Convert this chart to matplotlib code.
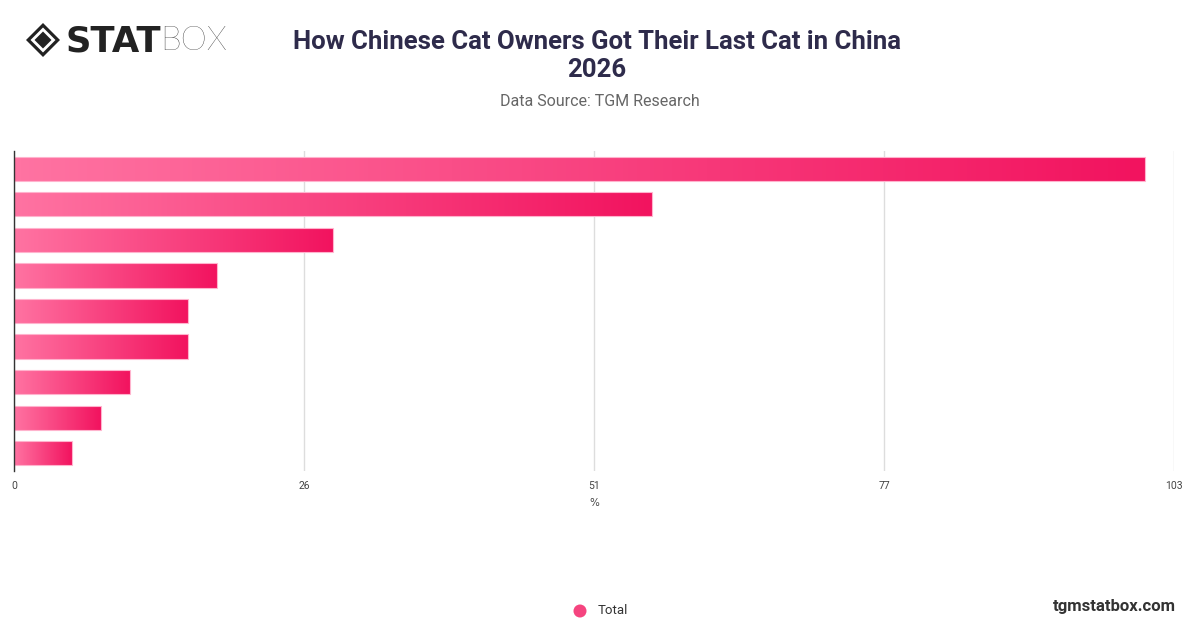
import numpy as np
import matplotlib.pyplot as plt
from matplotlib.colors import LinearSegmentedColormap
from matplotlib.patches import Polygon, Circle

# Valores das barras (%), de cima para baixo
valores = [100.4, 56.6, 28.3, 18.0, 15.4, 15.4, 10.3, 7.7, 5.1]
ticks = [0, 25.75, 51.5, 77.25, 103]
tick_labels = ['0', '26', '51', '77', '103']

titulo = 'How Chinese Cat Owners Got Their Last Cat in China\n2026'
fonte = 'Data Source: TGM Research'

cmap = LinearSegmentedColormap.from_list('rosa', ['#FF73A2', '#F2135F'])
grad = np.vstack([np.linspace(0, 1, 256)] * 2)

fig = plt.figure(figsize=(12, 6.28), dpi=100)
ax = fig.add_axes([14.3 / 1200, 1 - 471 / 628, 1159.7 / 1200, 320 / 628])

h = 0.68
barras = ax.barh(range(len(valores)), valores, height=h, color='none',
                 edgecolor='#FFB3CD', lw=0.8, zorder=4)
for i, (v, b) in enumerate(zip(valores, barras)):
    im = ax.imshow(grad, cmap=cmap, aspect='auto', interpolation='bilinear',
                   extent=[0, v, i - h / 2, i + h / 2], origin='lower', zorder=3)
    im.set_clip_path(b)

ax.set_xlim(0, 103)
ax.set_ylim(len(valores) - 0.5, -0.5)
ax.set_xticks(ticks)
ax.set_xticklabels(tick_labels, fontsize=7.5, color='#444444', family='Roboto')
ax.set_yticks([])
ax.tick_params(axis='x', length=0, pad=7)
ax.grid(axis='x', color='#DDDDDD', lw=1)
ax.set_axisbelow(True)
for s in ['top', 'right', 'bottom']:
    ax.spines[s].set_visible(False)
ax.spines['left'].set_color('#333333')
ax.spines['left'].set_linewidth(1)
ax.spines['left'].set_zorder(5)
ax.set_xlabel('%', fontsize=7.5, color='#444444', labelpad=5)

# camada de sobreposição em pixels
ov = fig.add_axes([0, 0, 1, 1], facecolor='none')
ov.set_xlim(0, 1200)
ov.set_ylim(628, 0)
ov.axis('off')

ov.text(597, 56, titulo, ha='center', va='center', fontsize=18.5, fontweight='bold',
        color='#2E2B4B', family='Roboto', linespacing=1.25)
ov.text(600, 101, fonte, ha='center', va='center', fontsize=11.5, color='#666666', family='Roboto')

# logo
cx, cy = 43, 40
for r, c in [(17, '#222222'), (12.5, 'white'), (8.5, '#222222')]:
    ov.add_patch(Polygon([(cx - r, cy), (cx, cy - r), (cx + r, cy), (cx, cy + r)], closed=True,
                         facecolor=c, edgecolor='none'))
ov.text(66, 41, 'STAT', ha='left', va='center', fontsize=25.5, fontweight='bold',
        color='#222222', family='DejaVu Sans')
ov.text(160, 41, 'BOX', ha='left', va='center', fontsize=24, fontweight='light',
        color='#222222', family='Lato')

# legenda
ov.add_patch(Circle((580, 611), 6.5, facecolor='#F5447F', edgecolor='none'))
ov.text(598, 611, 'Total', ha='left', va='center', fontsize=9.5, color='#333333', family='Roboto')

ov.text(1176, 606, 'tgmstatbox.com', ha='right', va='center', fontsize=12, fontweight='bold',
        color='#333333', family='Roboto')

plt.savefig('out.png', dpi=100)
